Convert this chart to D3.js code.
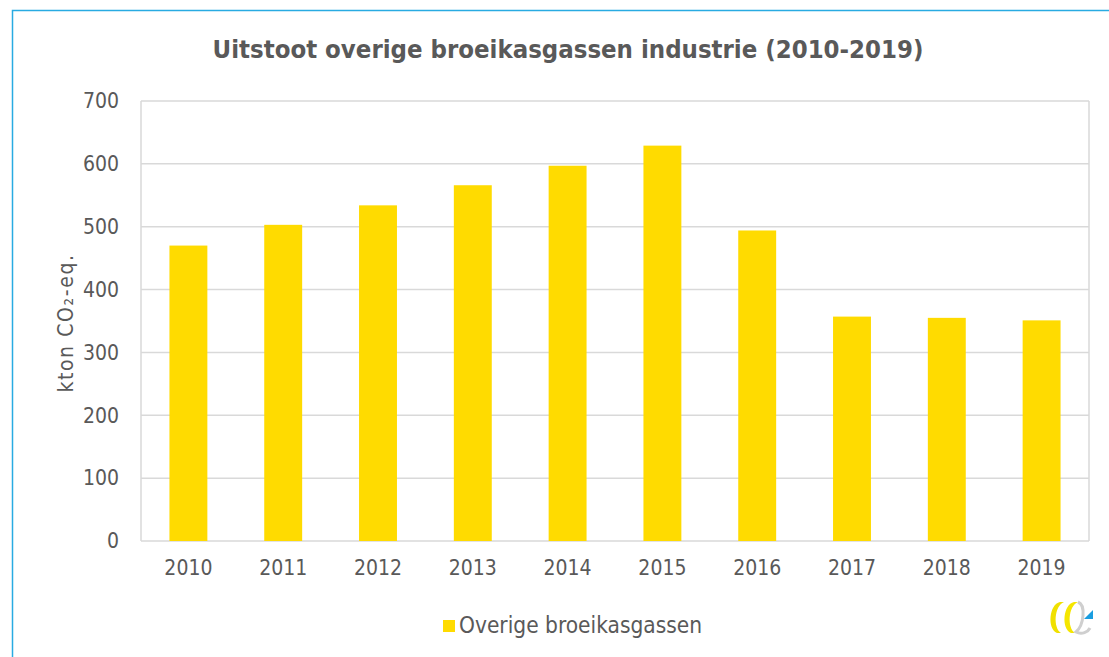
<!DOCTYPE html>
<html>
<head>
<meta charset="utf-8">
<script src="https://cdn.jsdelivr.net/npm/d3@7"></script>
<style>
  body { margin: 0; background: #fff; }
  text { font-family: "DejaVu Sans Condensed", "DejaVu Sans", sans-serif; fill: #595959; }
</style>
</head>
<body>
<div id="chart"></div>
<script>
// data
const jaren = ["2010","2011","2012","2013","2014","2015","2016","2017","2018","2019"];
const uitstoot = [470, 503, 534, 566, 597, 629, 494, 357, 355, 351];
const yTicks = [0, 100, 200, 300, 400, 500, 600, 700];
const reeksNaam = "Overige broeikasgassen";
const titel = "Uitstoot overige broeikasgassen industrie (2010-2019)";

const W = 1109, H = 657;
const margin = {top: 101, right: 20, bottom: 116, left: 141};
const plotW = 1089 - margin.left;
const plotH = 541 - margin.top;
const geel = "#ffdb00";
const grijs = "#d9d9d9";

const svg = d3.select("#chart").append("svg")
  .attr("width", W)
  .attr("height", H);

// blauwe rand
svg.append("rect")
  .attr("x", 12.5).attr("y", 10.5)
  .attr("width", W + 10).attr("height", H + 10)
  .attr("fill", "none")
  .attr("stroke", "#29abe2")
  .attr("stroke-width", 1.5);

const chart = svg.append("g")
  .attr("transform", "translate(" + margin.left + "," + margin.top + ")");

const x = d3.scaleBand().domain(jaren).range([0, plotW]).paddingInner(0.6).paddingOuter(0.3);
const y = d3.scaleLinear().domain([0, 700]).range([plotH, 0]);

// gridlijnen
chart.append("g")
  .selectAll("line")
  .data(yTicks)
  .enter().append("line")
    .attr("x1", 0).attr("x2", plotW)
    .attr("y1", d => y(d)).attr("y2", d => y(d))
    .attr("stroke", grijs)
    .attr("stroke-width", 1.5);

// kader
chart.append("line").attr("x1", 0).attr("x2", 0).attr("y1", 0).attr("y2", plotH)
  .attr("stroke", grijs).attr("stroke-width", 1.5);
chart.append("line").attr("x1", plotW).attr("x2", plotW).attr("y1", 0).attr("y2", plotH)
  .attr("stroke", grijs).attr("stroke-width", 1.5);

// balken
chart.selectAll(".bar")
  .data(jaren)
  .enter().append("rect")
    .attr("class", "bar")
    .attr("x", d => x(d))
    .attr("width", x.bandwidth())
    .attr("y", (d, i) => y(uitstoot[i]))
    .attr("height", (d, i) => plotH - y(uitstoot[i]))
    .attr("fill", geel);

// assen
const yAxis = chart.append("g")
  .call(d3.axisLeft(y).tickValues(yTicks).tickSize(0).tickPadding(22));
yAxis.select(".domain").remove();
yAxis.selectAll("text").attr("font-size", 21).attr("fill", "#595959")
  .style("font-family", "'DejaVu Sans Condensed', sans-serif");

const xAxis = chart.append("g")
  .attr("transform", "translate(0," + plotH + ")")
  .call(d3.axisBottom(x).tickSize(0).tickPadding(19));
xAxis.select(".domain").remove();
xAxis.selectAll("text").attr("font-size", 21).attr("fill", "#595959")
  .style("font-family", "'DejaVu Sans Condensed', sans-serif");

// y-label
chart.append("text")
  .attr("transform", "rotate(-90)")
  .attr("x", -(323 - margin.top))
  .attr("y", 73 - margin.left)
  .attr("text-anchor", "middle")
  .attr("font-size", 21)
  .attr("letter-spacing", 1.6)
  .text("kton CO₂-eq.");

// titel
svg.append("text")
  .attr("x", 568)
  .attr("y", 58)
  .attr("text-anchor", "middle")
  .attr("font-size", 25.5)
  .attr("font-weight", "bold")
  .text(titel);

// legenda
const legend = svg.append("g").attr("transform", "translate(443,620)");
legend.append("rect").attr("width", 12).attr("height", 12).attr("fill", geel);
legend.append("text")
  .attr("x", 16).attr("y", 13)
  .attr("font-size", 22.5)
  .text(reeksNaam);

// logo
const logo = svg.append("g").attr("transform", "translate(1046,601)");
logo.append("path")
  .attr("d", "M14,1 C3,3 1,28 11,32 L15,32 C7,27 8,5 18,1 Z")
  .attr("fill", "#f0e000");
logo.append("path")
  .attr("d", "M28,1 C17,3 15,28 25,32 L29,32 C21,27 22,5 32,1 Z")
  .attr("fill", "#f5e600");
logo.append("path")
  .attr("d", "M32,1 C40,4 38,24 30,31 C36,34 42,31 44,27")
  .attr("fill", "none").attr("stroke", "#cfcfcf").attr("stroke-width", 3);
logo.append("path")
  .attr("d", "M38,18 L47,9 L47,18 Z")
  .attr("fill", "#1a9de0");
</script>
</body>
</html>
